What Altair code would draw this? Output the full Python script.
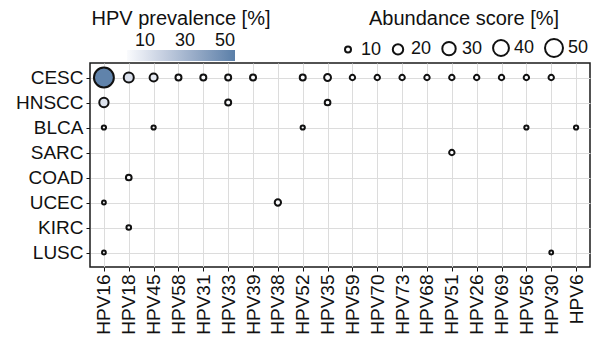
import altair as alt
import pandas as pd

# HPV types (columns) and tumour types (rows)
hpv_types = ["HPV16", "HPV18", "HPV45", "HPV58", "HPV31", "HPV33", "HPV39",
             "HPV38", "HPV52", "HPV35", "HPV59", "HPV70", "HPV73", "HPV68",
             "HPV51", "HPV26", "HPV69", "HPV56", "HPV30", "HPV6"]
cancers = ["CESC", "HNSCC", "BLCA", "SARC", "COAD", "UCEC", "KIRC", "LUSC"]

# CESC: HPV types detected, abundance score and prevalence (%)
cesc_hpv = ["HPV16", "HPV18", "HPV45", "HPV58", "HPV31", "HPV33", "HPV39",
            "HPV52", "HPV35", "HPV59", "HPV70", "HPV73", "HPV68", "HPV51",
            "HPV26", "HPV69", "HPV56", "HPV30"]
cesc_abund = [60, 19, 14, 10, 10, 10, 10, 10, 11.5, 9, 9, 9, 9, 9, 9, 9, 9, 9]
cesc_prev = [53, 12, 8, 1.5, 1.5, 1.5, 1.5, 1.5, 1.5, 1, 1, 1, 1, 1, 1, 1, 1, 1]

# remaining tumour types
other_cancer = ["HNSCC", "HNSCC", "HNSCC",
                "BLCA", "BLCA", "BLCA", "BLCA", "BLCA",
                "SARC", "COAD", "UCEC", "UCEC", "KIRC", "LUSC", "LUSC"]
other_hpv = ["HPV16", "HPV33", "HPV35",
             "HPV16", "HPV45", "HPV52", "HPV56", "HPV6",
             "HPV51", "HPV18", "HPV16", "HPV38", "HPV18", "HPV16", "HPV30"]
other_abund = [17, 10, 9.5,
               7.5, 7.5, 7.5, 7.5, 7.5,
               9, 9.5, 7, 10.5, 8, 7, 7]
other_prev = [11, 1.5, 1,
              1, 1, 1, 1, 1,
              1, 1, 1, 1, 1, 1, 1]

df = pd.DataFrame({
    "cancer": ["CESC"] * len(cesc_hpv) + other_cancer,
    "hpv": cesc_hpv + other_hpv,
    "abundance": cesc_abund + other_abund,
    "prevalence": cesc_prev + other_prev,
})

FONT = "Liberation Sans"

chart = alt.Chart(df).mark_circle(
    opacity=1, stroke="#111111", strokeWidth=2
).encode(
    x=alt.X("hpv:N", sort=hpv_types, title=None,
            scale=alt.Scale(type="point", padding=0.56),
            axis=alt.Axis(labelAngle=270, labelAlign="right",
                          labelBaseline="middle", labelPadding=3,
                          grid=True, domain=False)),
    y=alt.Y("cancer:N", sort=cancers, title=None,
            scale=alt.Scale(type="point", padding=0.58),
            axis=alt.Axis(grid=True, domain=False, labelPadding=3)),
    size=alt.Size("abundance:Q",
                  scale=alt.Scale(domain=[10, 50], range=[36, 324], zero=False),
                  legend=alt.Legend(
                      title="Abundance score [%]", values=[10, 20, 30, 40, 50],
                      orient="none", direction="horizontal",
                      legendX=249, legendY=-54,
                      titleAnchor="middle", titlePadding=9, titleLimit=400,
                      symbolFillColor="white", symbolStrokeColor="#111111",
                      symbolStrokeWidth=2, symbolOpacity=1,
                      labelFontSize=18, labelOffset=4, columnPadding=6)),
    color=alt.Color("prevalence:Q",
                    scale=alt.Scale(domain=[1, 55],
                                    range=["#fafbfd", "#5a7fa8"]),
                    legend=alt.Legend(
                        title="HPV prevalence [%]", values=[10, 30, 50],
                        orient="none", direction="horizontal",
                        legendX=2, legendY=-54,
                        gradientLength=108, gradientThickness=11,
                        gradientStrokeWidth=0,
                        titleAnchor="middle", titlePadding=21, titleLimit=400,
                        labelFontSize=18, labelOffset={"expr": "-29"})),
    order=alt.Order("abundance:Q", sort="descending"),
).properties(
    width=500, height=204,
    autosize=alt.AutoSizeParams(type="none"),
    padding={"left": 90, "top": 63, "right": 5, "bottom": 76},
).configure(
    font=FONT,
).configure_view(
    stroke="#1a1a1a", strokeWidth=1.5,
).configure_axis(
    labelFont=FONT, labelFontSize=19, labelColor="#111111",
    tickColor="#111111", tickSize=4, tickWidth=1,
    gridColor="#dcdcdc", gridWidth=1,
).configure_legend(
    titleFont=FONT, titleFontSize=20, titleFontWeight="normal",
    titleColor="#111111", labelFont=FONT, labelColor="#111111",
)

chart.save("out.html", embed_options={"renderer": "svg", "actions": False})
